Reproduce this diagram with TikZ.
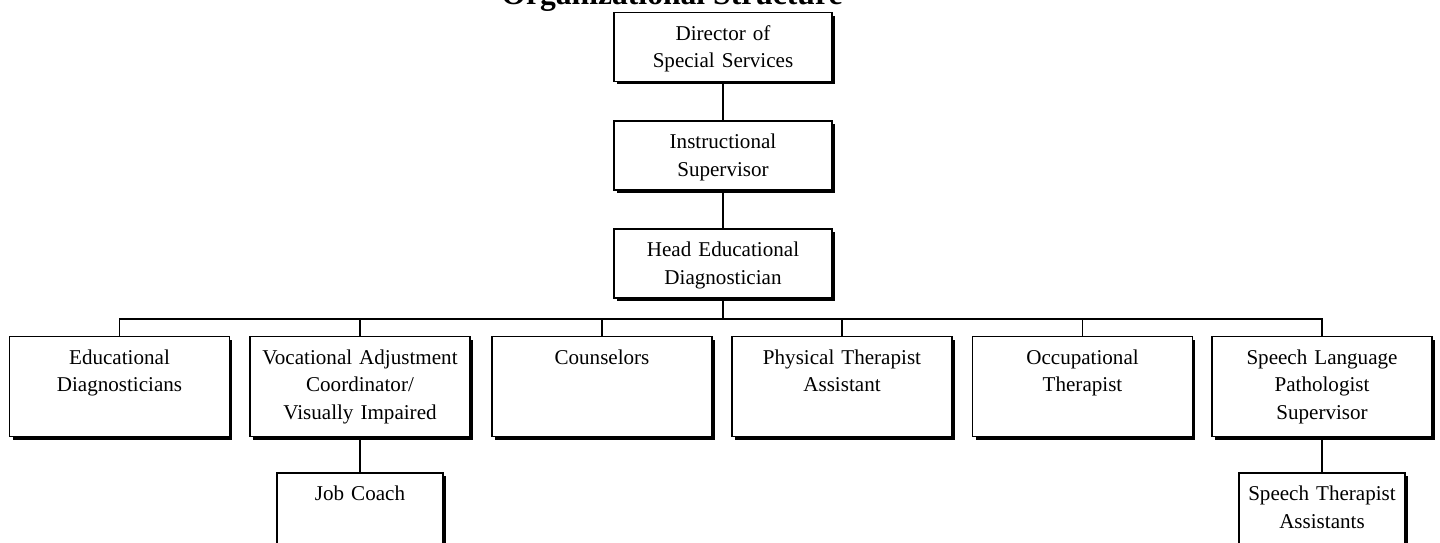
\documentclass[tikz,border=0pt]{standalone}
\usepackage{fontspec}
\setmainfont{Liberation Serif}
\usepackage{tikz}
\usetikzlibrary{shadows,positioning}

\begin{document}
\begin{tikzpicture}[
	x=0.02cm, y=-0.02cm,
	unit/.style={rectangle, draw, line width=1pt, fill=white, inner sep=0pt, minimum width=4.4cm, text width=4.3cm, align=center, font=\fontsize{12}{15.9}\selectfont, text height=0.55cm, text depth=1.45cm, general shadow={fill=black, shadow xshift=0.06cm, shadow yshift=-0.06cm}},
	boss/.style={unit, minimum width=4.36cm, text depth=0.83cm},
	helper/.style={unit, minimum width=3.32cm, text width=3.2cm},
	link/.style={line width=1pt}
	]
	
	% Page frame (the title runs off the top edge)
	\useasboundingbox (0,0) rectangle (1440,542);
	\clip (0,0) rectangle (1440,542);
	
	\node[font=\fontsize{18}{20}\selectfont\bfseries, anchor=base] (title) at (672,4) {Organizational Structure};
	
	% Top chain
	\node[boss] (dir) at (723,47) {Director of\\Special Services};
	\node[boss] (ins) at (723,155.5) {Instructional\\Supervisor};
	\node[boss] (hed) at (723,263.5) {Head Educational\\Diagnostician};
	
	% Staff row
	\node[unit] (edu) at (119.5,386.5) {Educational\\Diagnosticians};
	\node[unit] (voc) at (360,386.5) {Vocational Adjustment\\Coordinator/\\Visually Impaired};
	\node[unit] (cou) at (602,386.5) {Counselors};
	\node[unit] (pta) at (842,386.5) {Physical Therapist\\Assistant};
	\node[unit] (occ) at (1082.5,386.5) {Occupational\\Therapist};
	\node[unit] (slp) at (1322,386.5) {Speech Language\\Pathologist\\Supervisor};
	
	% Third level (cut by the page bottom)
	\node[helper] (job) at (360,523) {Job Coach};
	\node[helper] (sta) at (1322,523) {Speech Therapist\\Assistants};
	
	% Connectors
	\coordinate (bus) at (723,319);
	\draw[link] (dir.south) -- (ins.north);
	\draw[link] (ins.south) -- (hed.north);
	\foreach \staff in {edu,voc,cou,pta,occ,slp}
		\draw[link] (hed.south) -- (bus) -| (\staff.north);
	\draw[link] (voc.south) -- (job.north);
	\draw[link] (slp.south) -- (sta.north);
	
\end{tikzpicture}
\end{document}
